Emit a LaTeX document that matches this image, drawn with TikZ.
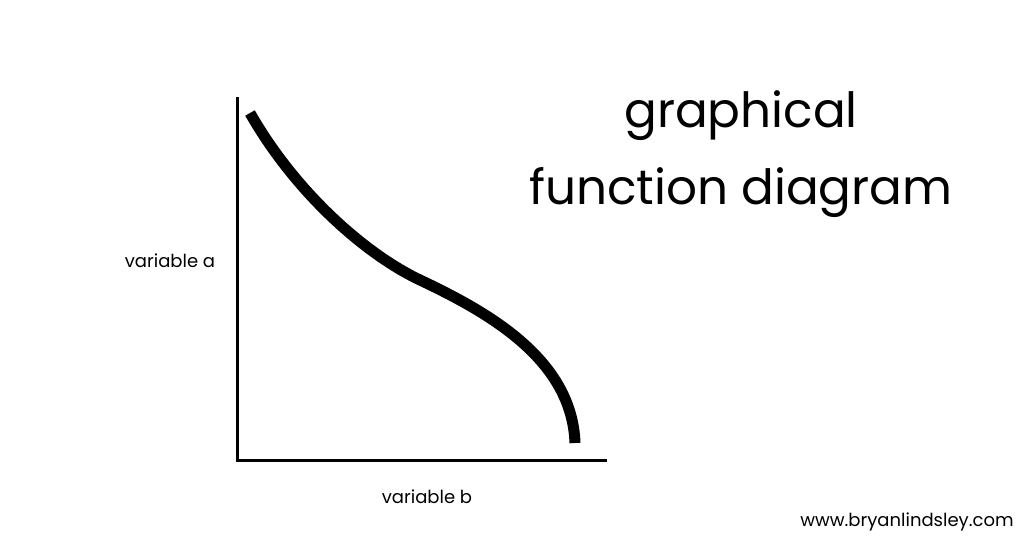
\documentclass[tikz,border=0pt]{standalone}
\usepackage{fontspec}
\setmainfont{Poppins}
\begin{document}
\begin{tikzpicture}[x=1pt,y=-1pt,
  axisline/.style={line width=3pt},
  curveline/.style={line width=11pt},
  lbl/.style={font=\fontsize{18}{18}\selectfont, inner sep=0pt},
  ttl/.style={font=\fontsize{48.5}{48.5}\selectfont, inner sep=0pt, anchor=base}]
\useasboundingbox[fill=white] (0,0) rectangle (1024,536);
\coordinate (top) at (237,97);
\coordinate (origin) at (237,460);
\coordinate (right) at (607,460);
\coordinate (c0) at (250,113);
\coordinate (c1) at (420,280);
\coordinate (c2) at (575,443);
\draw[axisline] (top) -- (origin) -- (right);
\draw[curveline] (c0) .. controls (295,192) and (365,254) .. (c1)
  .. controls (490,313) and (572,360) .. (c2);
\node[lbl] (va) at (170,261) {variable a};
\node[lbl] (vb) at (427,497) {variable b};
\node[ttl] (t1) at (741,127) {graphical};
\node[ttl] (t2) at (741,204) {function diagram};
\node[lbl, font=\fontsize{18}{18}\selectfont] (web) at (907,522) {www.bryanlindsley.com};
\end{tikzpicture}
\end{document}
